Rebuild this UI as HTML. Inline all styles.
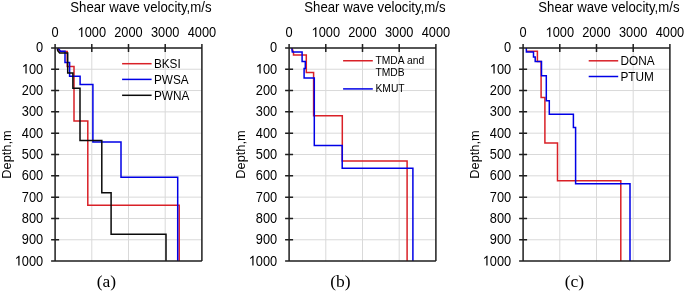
<!DOCTYPE html>
<html><head><meta charset="utf-8"><title>Shear wave velocity profiles</title>
<style>
html,body{margin:0;padding:0;background:#fff;}
body{width:685px;height:293px;overflow:hidden;}
svg{display:block;will-change:transform;font-family:"Liberation Sans",sans-serif;fill:#000;}
svg text{fill:#000;}
</style></head><body>
<svg width="685" height="293" viewBox="0 0 685 293">
<defs><path id="one" d="M575,0L575,1150L215,935L215,1100L645,1409L768,1409L768,0Z"/></defs>
<rect width="685" height="293" fill="#fff"/>
<path d="M91.80,47.90V261.10M128.50,47.90V261.10M165.20,47.90V261.10M55.10,69.22H201.90M55.10,90.54H201.90M55.10,111.86H201.90M55.10,133.18H201.90M55.10,154.50H201.90M55.10,175.82H201.90M55.10,197.14H201.90M55.10,218.46H201.90M55.10,239.78H201.90" stroke="#d9d9d9" stroke-width="1" fill="none"/>
<polyline points="57.60,48.20 59.50,50.60 60.50,51.40 67.20,51.40 67.20,66.40 74.00,66.40 74.00,120.90 87.80,120.90 87.80,205.20 179.20,205.20 179.20,261.10" fill="none" stroke="#d92027" stroke-width="1.5"/>
<polyline points="57.60,48.40 59.20,49.30 60.30,51.30 65.00,51.30 65.00,62.50 69.60,62.50 69.60,76.30 80.10,76.30 80.10,84.60 92.90,84.60 92.90,142.00 121.00,142.00 121.00,177.30 177.70,177.30 177.70,261.10" fill="none" stroke="#0000e6" stroke-width="1.5"/>
<polyline points="57.30,48.60 57.70,50.60 59.60,52.90 67.70,52.90 67.70,73.10 72.90,73.10 72.90,88.20 80.00,88.20 80.00,140.40 101.80,140.40 101.80,192.70 111.10,192.70 111.10,234.20 166.00,234.20 166.00,261.10" fill="none" stroke="#0a0a0a" stroke-width="1.5"/>
<path d="M55.10,43.90V261.10M51.10,47.90H201.90M201.90,43.90V261.10M51.10,261.10H201.90M91.80,43.90V51.90M128.50,43.90V51.90M165.20,43.90V51.90M51.10,69.22H59.10M51.10,90.54H59.10M51.10,111.86H59.10M51.10,133.18H59.10M51.10,154.50H59.10M51.10,175.82H59.10M51.10,197.14H59.10M51.10,218.46H59.10M51.10,239.78H59.10" stroke="#1f1f1f" stroke-width="1.5" fill="none"/>
<text transform="translate(51.54,37.00) scale(1,1.1)" font-size="12.8">0</text>
<text transform="translate(77.56,37.00) scale(1,1.1)" font-size="12.8"> 000</text><use href="#one" transform="translate(77.56,37.00) scale(0.00625,-0.00688)"/>
<text transform="translate(114.26,37.00) scale(1,1.1)" font-size="12.8">2000</text>
<text transform="translate(150.96,37.00) scale(1,1.1)" font-size="12.8">3000</text>
<text transform="translate(187.66,37.00) scale(1,1.1)" font-size="12.8">4000</text>
<text transform="translate(36.08,52.30) scale(1,1.1)" font-size="12.8">0</text>
<text transform="translate(21.84,73.62) scale(1,1.1)" font-size="12.8"> 00</text><use href="#one" transform="translate(21.84,73.62) scale(0.00625,-0.00688)"/>
<text transform="translate(21.84,94.94) scale(1,1.1)" font-size="12.8">200</text>
<text transform="translate(21.84,116.26) scale(1,1.1)" font-size="12.8">300</text>
<text transform="translate(21.84,137.58) scale(1,1.1)" font-size="12.8">400</text>
<text transform="translate(21.84,158.90) scale(1,1.1)" font-size="12.8">500</text>
<text transform="translate(21.84,180.22) scale(1,1.1)" font-size="12.8">600</text>
<text transform="translate(21.84,201.54) scale(1,1.1)" font-size="12.8">700</text>
<text transform="translate(21.84,222.86) scale(1,1.1)" font-size="12.8">800</text>
<text transform="translate(21.84,244.18) scale(1,1.1)" font-size="12.8">900</text>
<text transform="translate(14.73,265.50) scale(1,1.1)" font-size="12.8"> 000</text><use href="#one" transform="translate(14.73,265.50) scale(0.00625,-0.00688)"/>
<text transform="translate(140.90,11.60) scale(1,1.065)" font-size="13.2" text-anchor="middle">Shear wave velocity,m/s</text>
<text transform="translate(10.90,154.50) rotate(-90)" font-size="12.8" text-anchor="middle">Depth,m</text>
<text x="106.40" y="287.2" font-size="17.5" text-anchor="middle" font-family="Liberation Serif, serif">(a)</text>
<path d="M122.10,63.70H151.60" stroke="#d92027" stroke-width="1.5"/>
<text transform="translate(153.90,68.00) scale(1,1.08)" font-size="11.8">BKSI</text>
<path d="M122.10,79.40H151.60" stroke="#0000e6" stroke-width="1.5"/>
<text transform="translate(153.90,83.70) scale(1,1.08)" font-size="11.8">PWSA</text>
<path d="M122.10,95.30H151.60" stroke="#0a0a0a" stroke-width="1.5"/>
<text transform="translate(153.90,99.60) scale(1,1.08)" font-size="11.8">PWNA</text>
<path d="M325.80,47.90V261.10M362.50,47.90V261.10M399.20,47.90V261.10M289.10,69.22H435.90M289.10,90.54H435.90M289.10,111.86H435.90M289.10,133.18H435.90M289.10,154.50H435.90M289.10,175.82H435.90M289.10,197.14H435.90M289.10,218.46H435.90M289.10,239.78H435.90" stroke="#d9d9d9" stroke-width="1" fill="none"/>
<polyline points="292.00,48.30 293.50,52.50 293.50,55.00 306.30,55.00 306.30,72.50 313.60,72.50 313.60,115.80 342.30,115.80 342.30,161.00 407.10,161.00 407.10,261.10" fill="none" stroke="#d92027" stroke-width="1.5"/>
<polyline points="291.80,48.10 292.30,52.00 302.10,52.00 302.10,61.40 305.30,61.40 305.30,68.60 304.10,68.60 304.10,78.00 314.30,78.00 314.30,145.60 342.20,145.60 342.20,168.20 412.90,168.20 412.90,261.10" fill="none" stroke="#0000e6" stroke-width="1.5"/>
<path d="M289.10,43.90V261.10M285.10,47.90H435.90M435.90,43.90V261.10M285.10,261.10H435.90M325.80,43.90V51.90M362.50,43.90V51.90M399.20,43.90V51.90M285.10,69.22H293.10M285.10,90.54H293.10M285.10,111.86H293.10M285.10,133.18H293.10M285.10,154.50H293.10M285.10,175.82H293.10M285.10,197.14H293.10M285.10,218.46H293.10M285.10,239.78H293.10" stroke="#1f1f1f" stroke-width="1.5" fill="none"/>
<text transform="translate(285.54,37.00) scale(1,1.1)" font-size="12.8">0</text>
<text transform="translate(311.56,37.00) scale(1,1.1)" font-size="12.8"> 000</text><use href="#one" transform="translate(311.56,37.00) scale(0.00625,-0.00688)"/>
<text transform="translate(348.26,37.00) scale(1,1.1)" font-size="12.8">2000</text>
<text transform="translate(384.96,37.00) scale(1,1.1)" font-size="12.8">3000</text>
<text transform="translate(421.66,37.00) scale(1,1.1)" font-size="12.8">4000</text>
<text transform="translate(270.08,52.30) scale(1,1.1)" font-size="12.8">0</text>
<text transform="translate(255.84,73.62) scale(1,1.1)" font-size="12.8"> 00</text><use href="#one" transform="translate(255.84,73.62) scale(0.00625,-0.00688)"/>
<text transform="translate(255.84,94.94) scale(1,1.1)" font-size="12.8">200</text>
<text transform="translate(255.84,116.26) scale(1,1.1)" font-size="12.8">300</text>
<text transform="translate(255.84,137.58) scale(1,1.1)" font-size="12.8">400</text>
<text transform="translate(255.84,158.90) scale(1,1.1)" font-size="12.8">500</text>
<text transform="translate(255.84,180.22) scale(1,1.1)" font-size="12.8">600</text>
<text transform="translate(255.84,201.54) scale(1,1.1)" font-size="12.8">700</text>
<text transform="translate(255.84,222.86) scale(1,1.1)" font-size="12.8">800</text>
<text transform="translate(255.84,244.18) scale(1,1.1)" font-size="12.8">900</text>
<text transform="translate(248.73,265.50) scale(1,1.1)" font-size="12.8"> 000</text><use href="#one" transform="translate(248.73,265.50) scale(0.00625,-0.00688)"/>
<text transform="translate(374.90,11.60) scale(1,1.065)" font-size="13.2" text-anchor="middle">Shear wave velocity,m/s</text>
<text transform="translate(244.90,154.50) rotate(-90)" font-size="12.8" text-anchor="middle">Depth,m</text>
<text x="340.40" y="287.2" font-size="17.5" text-anchor="middle" font-family="Liberation Serif, serif">(b)</text>
<path d="M343.10,60.75H372.80" stroke="#d92027" stroke-width="1.5"/>
<text transform="translate(375.50,64.30) scale(1,1.04)" font-size="10.3">TMDA and</text>
<text transform="translate(375.50,75.60) scale(1,1.04)" font-size="10.3">TMDB</text>
<path d="M343.10,88.9H372.80" stroke="#0000e6" stroke-width="1.5"/>
<text transform="translate(375.50,92.20) scale(1,1.04)" font-size="10.3">KMUT</text>
<path d="M559.80,47.90V261.10M596.50,47.90V261.10M633.20,47.90V261.10M523.10,69.22H669.90M523.10,90.54H669.90M523.10,111.86H669.90M523.10,133.18H669.90M523.10,154.50H669.90M523.10,175.82H669.90M523.10,197.14H669.90M523.10,218.46H669.90M523.10,239.78H669.90" stroke="#d9d9d9" stroke-width="1" fill="none"/>
<polyline points="526.40,51.30 537.40,51.30 537.40,61.40 541.10,61.40 541.10,97.50 544.90,97.50 544.90,143.00 557.50,143.00 557.50,180.80 620.80,180.80 620.80,261.10" fill="none" stroke="#d92027" stroke-width="1.5"/>
<polyline points="526.30,48.10 526.40,52.00 533.50,52.00 533.50,57.10 535.20,57.10 535.20,61.40 541.50,61.40 541.50,75.70 546.30,75.70 546.30,100.70 549.30,100.70 549.30,114.30 573.40,114.30 573.40,127.60 575.60,127.60 575.60,183.80 630.00,183.80 630.00,261.10" fill="none" stroke="#0000e6" stroke-width="1.5"/>
<path d="M523.10,43.90V261.10M519.10,47.90H669.90M669.90,43.90V261.10M519.10,261.10H669.90M559.80,43.90V51.90M596.50,43.90V51.90M633.20,43.90V51.90M519.10,69.22H527.10M519.10,90.54H527.10M519.10,111.86H527.10M519.10,133.18H527.10M519.10,154.50H527.10M519.10,175.82H527.10M519.10,197.14H527.10M519.10,218.46H527.10M519.10,239.78H527.10" stroke="#1f1f1f" stroke-width="1.5" fill="none"/>
<text transform="translate(519.54,37.00) scale(1,1.1)" font-size="12.8">0</text>
<text transform="translate(545.56,37.00) scale(1,1.1)" font-size="12.8"> 000</text><use href="#one" transform="translate(545.56,37.00) scale(0.00625,-0.00688)"/>
<text transform="translate(582.26,37.00) scale(1,1.1)" font-size="12.8">2000</text>
<text transform="translate(618.96,37.00) scale(1,1.1)" font-size="12.8">3000</text>
<text transform="translate(655.66,37.00) scale(1,1.1)" font-size="12.8">4000</text>
<text transform="translate(504.08,52.30) scale(1,1.1)" font-size="12.8">0</text>
<text transform="translate(489.84,73.62) scale(1,1.1)" font-size="12.8"> 00</text><use href="#one" transform="translate(489.84,73.62) scale(0.00625,-0.00688)"/>
<text transform="translate(489.84,94.94) scale(1,1.1)" font-size="12.8">200</text>
<text transform="translate(489.84,116.26) scale(1,1.1)" font-size="12.8">300</text>
<text transform="translate(489.84,137.58) scale(1,1.1)" font-size="12.8">400</text>
<text transform="translate(489.84,158.90) scale(1,1.1)" font-size="12.8">500</text>
<text transform="translate(489.84,180.22) scale(1,1.1)" font-size="12.8">600</text>
<text transform="translate(489.84,201.54) scale(1,1.1)" font-size="12.8">700</text>
<text transform="translate(489.84,222.86) scale(1,1.1)" font-size="12.8">800</text>
<text transform="translate(489.84,244.18) scale(1,1.1)" font-size="12.8">900</text>
<text transform="translate(482.73,265.50) scale(1,1.1)" font-size="12.8"> 000</text><use href="#one" transform="translate(482.73,265.50) scale(0.00625,-0.00688)"/>
<text transform="translate(608.90,11.60) scale(1,1.065)" font-size="13.2" text-anchor="middle">Shear wave velocity,m/s</text>
<text transform="translate(478.90,154.50) rotate(-90)" font-size="12.8" text-anchor="middle">Depth,m</text>
<text x="574.40" y="287.2" font-size="17.5" text-anchor="middle" font-family="Liberation Serif, serif">(c)</text>
<path d="M588.70,60.80H618.20" stroke="#d92027" stroke-width="1.5"/>
<text transform="translate(620.50,65.10) scale(1,1.08)" font-size="11.8">DONA</text>
<path d="M588.70,76.50H618.20" stroke="#0000e6" stroke-width="1.5"/>
<text transform="translate(620.50,80.80) scale(1,1.08)" font-size="11.8">PTUM</text>
</svg>
</body></html>
